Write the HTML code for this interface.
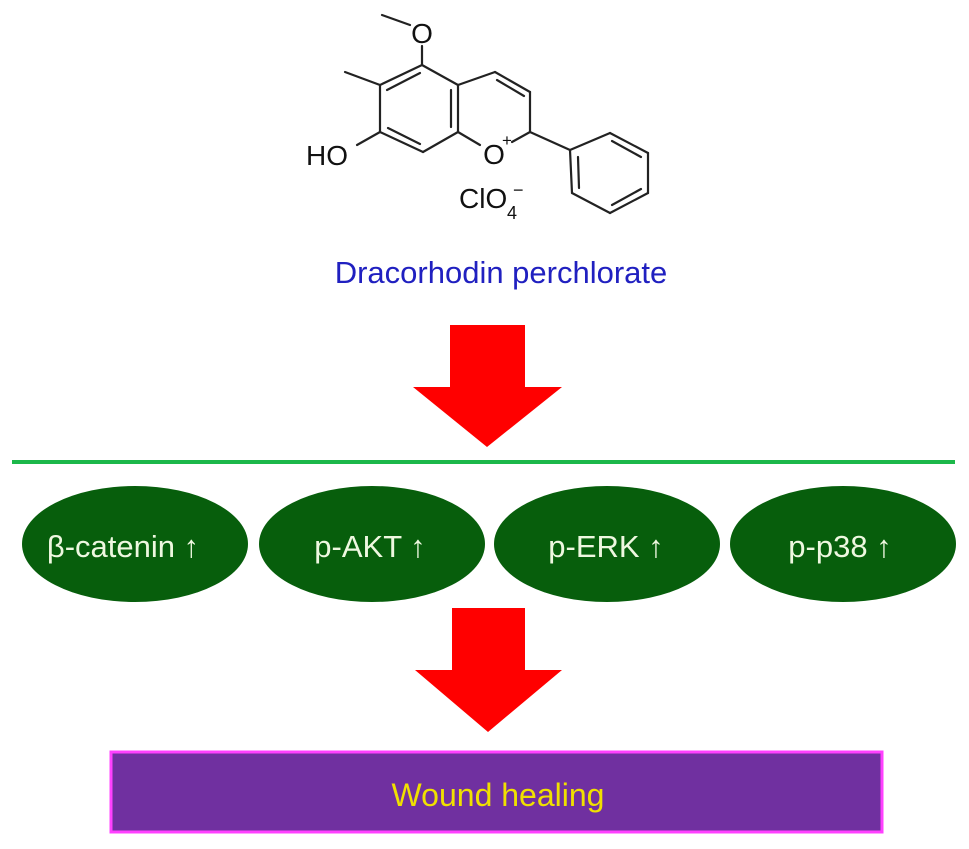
<!DOCTYPE html>
<html><head><meta charset="utf-8"><style>
html,body{margin:0;padding:0;background:#fff;}
svg{display:block;}
</style></head><body>
<svg width="969" height="849" viewBox="0 0 969 849" xmlns="http://www.w3.org/2000/svg" font-family="Liberation Sans, Arial, sans-serif">
<g stroke="#222" stroke-width="2.2" fill="none" stroke-linecap="round">
<line x1="382" y1="15" x2="410" y2="25"/>
<line x1="422" y1="46" x2="422" y2="65"/>
<line x1="422" y1="65" x2="458" y2="85"/>
<line x1="458" y1="85" x2="458" y2="132"/>
<line x1="458" y1="132" x2="423" y2="152"/>
<line x1="423" y1="152" x2="380" y2="132"/>
<line x1="380" y1="132" x2="380" y2="85"/>
<line x1="380" y1="85" x2="422" y2="65"/>
<line x1="387" y1="90" x2="420" y2="73"/>
<line x1="451" y1="90" x2="451" y2="127"/>
<line x1="388" y1="128" x2="420" y2="144"/>
<line x1="380" y1="85" x2="345" y2="72"/>
<line x1="380" y1="132" x2="357" y2="145"/>
<line x1="458" y1="85" x2="495" y2="72"/>
<line x1="495" y1="72" x2="530" y2="92"/>
<line x1="497" y1="80" x2="524" y2="96"/>
<line x1="530" y1="92" x2="530" y2="132"/>
<line x1="530" y1="132" x2="512" y2="142"/>
<line x1="458" y1="132" x2="480" y2="145"/>
<line x1="530" y1="132" x2="570" y2="150"/>
<line x1="570" y1="150" x2="610" y2="133"/>
<line x1="610" y1="133" x2="648" y2="153"/>
<line x1="648" y1="153" x2="648" y2="193"/>
<line x1="648" y1="193" x2="610" y2="213"/>
<line x1="610" y1="213" x2="572" y2="193"/>
<line x1="572" y1="193" x2="570" y2="150"/>
<line x1="612" y1="141" x2="641" y2="157"/>
<line x1="641" y1="189" x2="612" y2="205"/>
<line x1="579" y1="188" x2="578" y2="157"/>
</g>
<g fill="#111" font-size="28">
<text x="422" y="43" text-anchor="middle">O</text>
<text x="306" y="165">HO</text>
<text x="494" y="164" text-anchor="middle">O</text>
<text x="502" y="146" font-size="17">+</text>
<text x="459" y="208">ClO</text>
<text x="507" y="219" font-size="18">4</text>
<text x="513" y="196" font-size="18">−</text>
</g>
<text x="501" y="283" text-anchor="middle" font-size="31" fill="#2020c0">Dracorhodin perchlorate</text>
<polygon points="450,325 525,325 525,387 562,387 487,447 413,387 450,387" fill="#f00"/>
<line x1="12" y1="462" x2="955" y2="462" stroke="#1cb84a" stroke-width="4"/>
<g fill="#075e0c">
<ellipse cx="135" cy="544" rx="113" ry="58"/>
<ellipse cx="372" cy="544" rx="113" ry="58"/>
<ellipse cx="607" cy="544" rx="113" ry="58"/>
<ellipse cx="843" cy="544" rx="113" ry="58"/>
</g>
<g fill="#eef8e0" font-size="31" text-anchor="middle">
<text x="123" y="557">β-catenin ↑</text>
<text x="370" y="557">p-AKT ↑</text>
<text x="606" y="557">p-ERK ↑</text>
<text x="840" y="557">p-p38 ↑</text>
</g>
<polygon points="452,608 525,608 525,670 562,670 488,732 415,670 452,670" fill="#f00"/>
<rect x="111" y="752" width="771" height="80" fill="#7030a0" stroke="#ff40ff" stroke-width="3"/>
<text x="498" y="806" text-anchor="middle" font-size="32" fill="#f0e000">Wound healing</text>
</svg>
</body></html>
